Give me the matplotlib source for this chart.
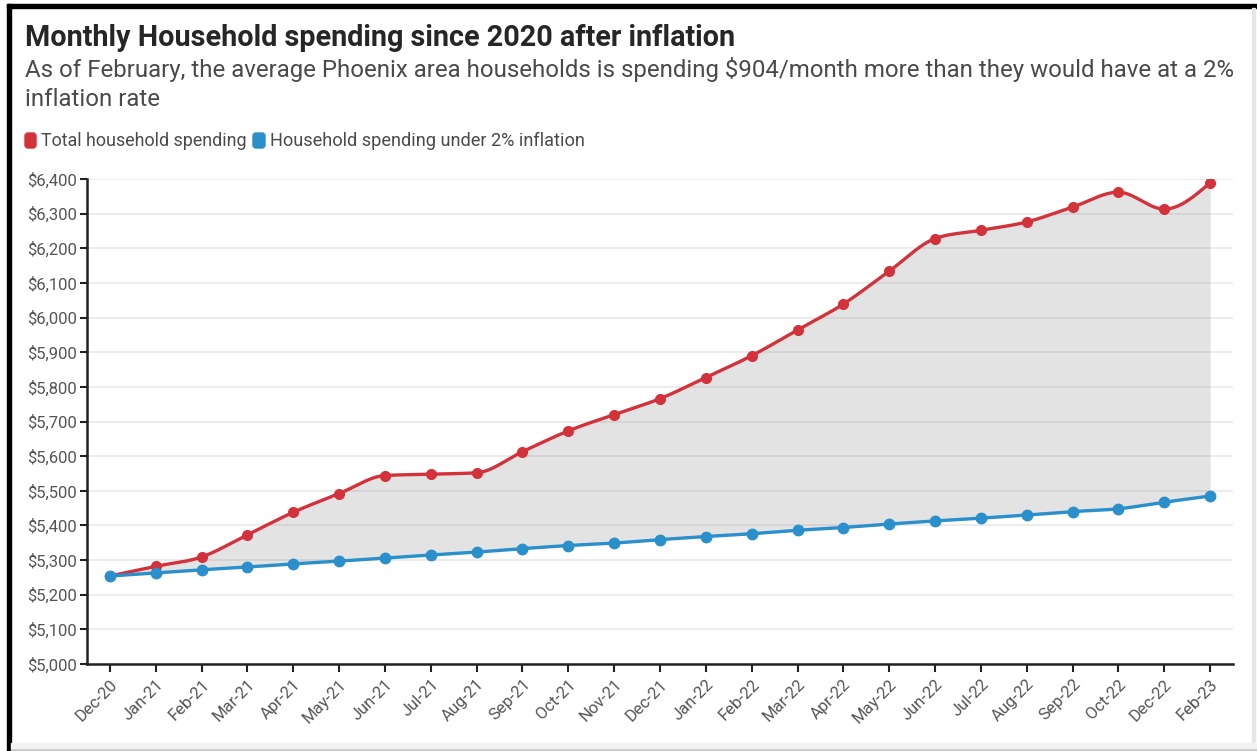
import numpy as np
import matplotlib.pyplot as plt
from matplotlib.patches import FancyBboxPatch, Rectangle
from matplotlib.transforms import IdentityTransform

# Data
months = ['Dec-20', 'Jan-21', 'Feb-21', 'Mar-21', 'Apr-21', 'May-21', 'Jun-21',
          'Jul-21', 'Aug-21', 'Sep-21', 'Oct-21', 'Nov-21', 'Dec-21', 'Jan-22',
          'Feb-22', 'Mar-22', 'Apr-22', 'May-22', 'Jun-22', 'Jul-22', 'Aug-22',
          'Sep-22', 'Oct-22', 'Dec-22', 'Feb-23']
total_spending = [5254, 5282, 5309, 5373, 5438, 5492, 5544, 5548, 5552, 5613,
                  5673, 5720, 5766, 5827, 5890, 5964, 6039, 6134, 6228, 6252,
                  6276, 6319, 6362, 6313, 6389]
spending_2pct = [5254, 5263, 5272, 5280, 5289, 5297, 5306, 5315, 5323, 5333,
                 5342, 5349, 5359, 5368, 5376, 5386, 5394, 5404, 5413, 5421,
                 5430, 5440, 5448, 5467, 5485]
yticks = list(range(5000, 6401, 100))

RED = '#d3323b'
BLUE = '#2a8fca'
W, H = 1257, 751


def monotone_curve(y, n=30):
    """Monotone cubic (like d3 curveMonotoneX) through evenly spaced points."""
    y = np.asarray(y, dtype=float)
    x = np.arange(len(y), dtype=float)
    s = np.diff(y)
    t = np.zeros_like(y)
    for i in range(1, len(y) - 1):
        s0, s1 = s[i - 1], s[i]
        p = (s0 + s1) / 2
        t[i] = (np.sign(s0) + np.sign(s1)) * min(abs(s0), abs(s1), 0.5 * abs(p))
    t[0] = (3 * s[0] - t[1]) / 2
    t[-1] = (3 * s[-1] - t[-2]) / 2
    xs, ys = [], []
    for i in range(len(y) - 1):
        u = np.linspace(0, 1, n, endpoint=(i == len(y) - 2))
        h00 = 2 * u**3 - 3 * u**2 + 1
        h10 = u**3 - 2 * u**2 + u
        h01 = -2 * u**3 + 3 * u**2
        h11 = u**3 - u**2
        xs.append(x[i] + u)
        ys.append(h00 * y[i] + h10 * t[i] + h01 * y[i + 1] + h11 * t[i + 1])
    return np.concatenate(xs), np.concatenate(ys)


plt.rcParams['font.family'] = ['Roboto', 'DejaVu Sans']

fig = plt.figure(figsize=(W / 100, H / 100), dpi=100)
ax = fig.add_axes([87 / W, 1 - 664 / H, (1233 - 87) / W, (664 - 179) / H])

x = np.arange(len(months))
xr, yr = monotone_curve(total_spending)
xb, yb = monotone_curve(spending_2pct)

ax.fill_between(xr, yb, yr, color='#808080', alpha=0.22, lw=0, zorder=2)
ax.plot(xr, yr, color=RED, lw=2.4, zorder=3, solid_capstyle='round')
ax.plot(x, total_spending, 'o', color=RED, ms=7, zorder=4)
ax.plot(xb, yb, color=BLUE, lw=2.4, zorder=5, solid_capstyle='round')
ax.plot(x, spending_2pct, 'o', color=BLUE, ms=7.5, zorder=6)

ax.set_xlim(-0.5, len(months) - 0.5)
ax.set_ylim(5000, 6400)
ax.set_yticks(yticks)
ax.set_yticklabels([f'${v:,}' for v in yticks])
ax.set_xticks(x)
ax.set_xticklabels(months, rotation=45, ha='right', rotation_mode='anchor')
ax.grid(axis='y', color='#e9e9e9', lw=1.2, zorder=1)
ax.set_axisbelow(True)

for side in ['top', 'right']:
    ax.spines[side].set_visible(False)
for side in ['left', 'bottom']:
    ax.spines[side].set_linewidth(1.8)
    ax.spines[side].set_color('#222222')
ax.tick_params(axis='y', length=5, width=1.5, color='#222222', labelsize=12,
               labelcolor='#555555', pad=2)
ax.tick_params(axis='x', length=6, width=1.5, color='#222222', labelsize=12,
               labelcolor='#555555', pad=3)

# Titles
fig.text(25 / W, 1 - 38 / H, 'Monthly Household spending since 2020 after inflation',
         fontsize=20.7, fontweight='bold', color='#262626', va='center')
fig.text(25 / W, 1 - 70 / H,
         'As of February, the average Phoenix area households is spending '
         '$904/month more than they would have at a 2%',
         fontsize=17.3, color='#4a4a4a', va='center')
fig.text(25 / W, 1 - 99 / H, 'inflation rate', fontsize=17.3, color='#4a4a4a',
         va='center')

# Legend
ident = IdentityTransform()
fig.add_artist(FancyBboxPatch((25, H - 148), 11, 15, boxstyle='round,pad=0,rounding_size=3',
                              transform=ident, color=RED))
fig.text(41 / W, 1 - 141 / H, 'Total household spending', fontsize=12.9,
         color='#4a4a4a', va='center')
fig.add_artist(FancyBboxPatch((253, H - 148), 12, 15, boxstyle='round,pad=0,rounding_size=3',
                              transform=ident, color=BLUE))
fig.text(270 / W, 1 - 141 / H, 'Household spending under 2% inflation', fontsize=13.1,
         color='#4a4a4a', va='center')

# Frame around the screenshot
fig.add_artist(Rectangle((7, 0), 4, H - 4, transform=ident, color='black'))
fig.add_artist(Rectangle((7, H - 8), W - 7, 4, transform=ident, color='black'))
fig.add_artist(Rectangle((1252, 0), 3, H - 8, transform=ident, color='#e6e6e6'))
fig.add_artist(Rectangle((11, 0), W - 11, 3, transform=ident, color='#c8c8c8'))
fig.add_artist(Rectangle((11, 3), W - 11, 5, transform=ident, color='#f2f2f2'))

fig.savefig('out.png', dpi=100)
